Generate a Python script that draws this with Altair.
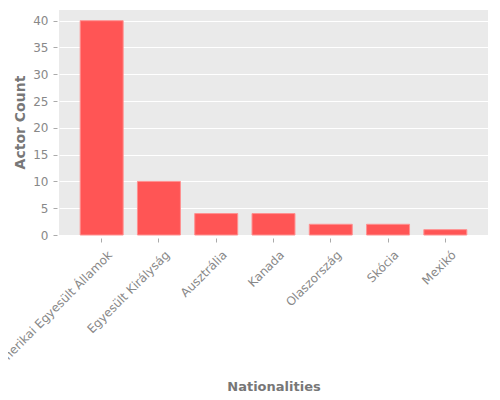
import pandas as pd
import altair as alt

# actor counts per nationality
nationalities = [
    "Amerikai Egyesült Államok",
    "Egyesült Királyság",
    "Ausztrália",
    "Kanada",
    "Olaszország",
    "Skócia",
    "Mexikó"]
counts = [40, 10, 4, 4, 2, 2, 1]
y_ticks = [0, 5, 10, 15, 20, 25, 30, 35, 40]

df = pd.DataFrame({"nationality": nationalities, "count": counts})

bars = alt.Chart(df).mark_bar(
    color="#FF5555",
    stroke="#FF9090",
    strokeWidth=1).encode(
    x=alt.X(
        "nationality:N",
        sort=nationalities,
        title="Nationalities",
        scale=alt.Scale(paddingInner=0.25, paddingOuter=0.37),
        axis=alt.Axis(
            labelAngle=-45,
            labelAlign="right",
            labelBaseline="top",
            labelPadding=7,
            labelOffset=5,
            tickSize=4,
            offset=3,
            titleY=148,
            titleBaseline="middle",
            titleFontSize=13)
    ),
    y=alt.Y(
        "count:Q",
        title="Actor Count",
        scale=alt.Scale(domain=[0, 42], nice=False),
        axis=alt.Axis(
            values=y_ticks,
            tickSize=4,
            offset=2,
            labelPadding=5,
            grid=True,
            titleX=-37,
            titleY=112,
            titleBaseline="middle",
            titleFontSize=14)
    ))

chart = bars.properties(
    width=429,
    height=225,
    autosize=alt.AutoSizeParams(type="none"),
    padding={"left": 51, "top": 2, "right": 4, "bottom": 162})

# ggplot-like styling
chart = chart.configure_axis(
    labelFont="DejaVu Sans",
    titleFont="DejaVu Sans",
    labelFontSize=12,
    labelColor="#888888",
    titleColor="#777777",
    titleFontWeight="bold",
    tickColor="#AAAAAA",
    gridColor="#FFFFFF",
    gridWidth=1,
    domain=False).configure_view(
    fill="#EAEAEA",
    stroke=None)

chart.save("out.html", embed_options={"renderer": "svg", "actions": False})
